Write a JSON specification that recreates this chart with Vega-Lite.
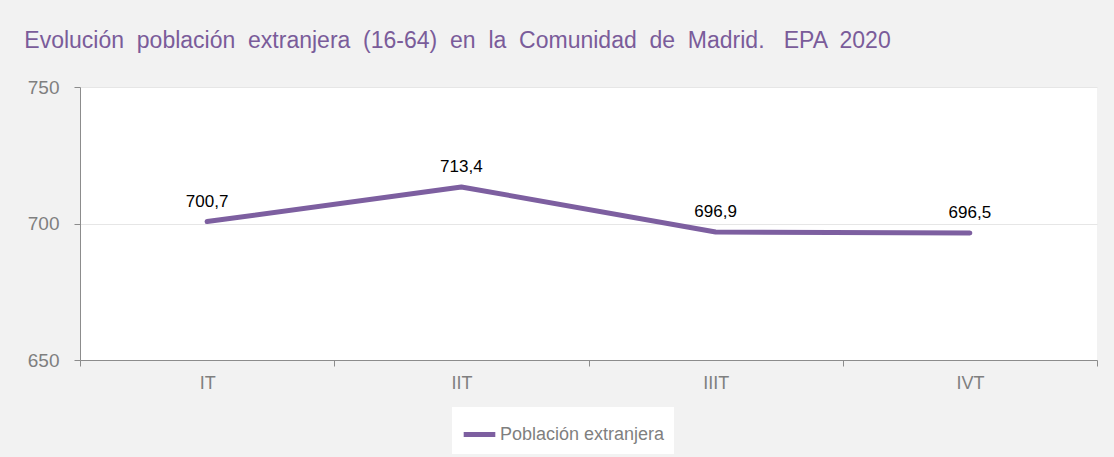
{
  "$schema": "https://vega.github.io/schema/vega-lite/v6.json",
  "width": 1017,
  "height": 273,
  "autosize": {"type": "none"},
  "padding": {"left": 80, "top": 87, "right": 17, "bottom": 97},
  "background": "#f2f2f2",
  "title": {
    "text": "Evolución \u00a0población \u00a0extranjera \u00a0(16-64) \u00a0en \u00a0la \u00a0Comunidad \u00a0de \u00a0Madrid. \u00a0 EPA \u00a02020",
    "anchor": "start",
    "dx": -3,
    "offset": 25,
    "font": "Liberation Sans",
    "fontSize": 23,
    "fontWeight": "normal",
    "color": "#7a5c9a",
    "limit": 1100
  },
  "config": {
    "font": "Liberation Sans",
    "view": {"fill": "white", "stroke": null},
    "locale": {"number": {"decimal": ",", "thousands": ".", "grouping": [3], "currency": ["", " €"]}}
  },
  "data": {
    "values": [
      {"trimestre": "IT", "valor": 700.7, "serie": "Población extranjera"},
      {"trimestre": "IIT", "valor": 713.4, "serie": "Población extranjera"},
      {"trimestre": "IIIT", "valor": 696.9, "serie": "Población extranjera"},
      {"trimestre": "IVT", "valor": 696.5, "serie": "Población extranjera"}
    ]
  },
  "encoding": {
    "x": {
      "field": "trimestre",
      "type": "ordinal",
      "sort": ["IT", "IIT", "IIIT", "IVT"],
      "scale": {"type": "band", "paddingInner": 0, "paddingOuter": 0},
      "bandPosition": 0.5,
      "axis": {
        "title": null,
        "labelAngle": 0,
        "tickBand": "extent",
        "domainColor": "#8c8c8c",
        "tickColor": "#8c8c8c",
        "tickSize": 6,
        "labelColor": "#7f7f7f",
        "labelFontSize": 18,
        "labelPadding": 8,
        "grid": false
      }
    },
    "y": {
      "field": "valor",
      "type": "quantitative",
      "scale": {"domain": [650, 750], "nice": false, "zero": false},
      "axis": {
        "title": null,
        "values": [650, 700, 750],
        "domainColor": "#8c8c8c",
        "tickColor": "#8c8c8c",
        "tickSize": 6,
        "labelColor": "#7f7f7f",
        "labelFontSize": 19,
        "labelPadding": 15,
        "gridColor": "#e6e6e6",
        "gridWidth": 1
      }
    }
  },
  "layer": [
    {
      "mark": {"type": "line", "strokeWidth": 5, "strokeCap": "round", "strokeJoin": "round"},
      "encoding": {
        "color": {
          "field": "serie",
          "type": "nominal",
          "scale": {"range": ["#7d5fa0"]},
          "legend": {
            "title": null,
            "orient": "none",
            "legendX": 372,
            "legendY": 320,
            "direction": "horizontal",
            "fillColor": "white",
            "padding": 9,
            "labelColor": "#7f7f7f",
            "labelFontSize": 18,
            "labelLimit": 400,
            "symbolType": "stroke",
            "symbolSize": 1000,
            "symbolStrokeWidth": 5,
            "labelOffset": 2
          }
        }
      }
    },
    {
      "mark": {"type": "text", "dy": -20, "fontSize": 17, "color": "black"},
      "encoding": {
        "text": {"field": "valor", "type": "quantitative", "format": ".1f"}
      }
    }
  ]
}
